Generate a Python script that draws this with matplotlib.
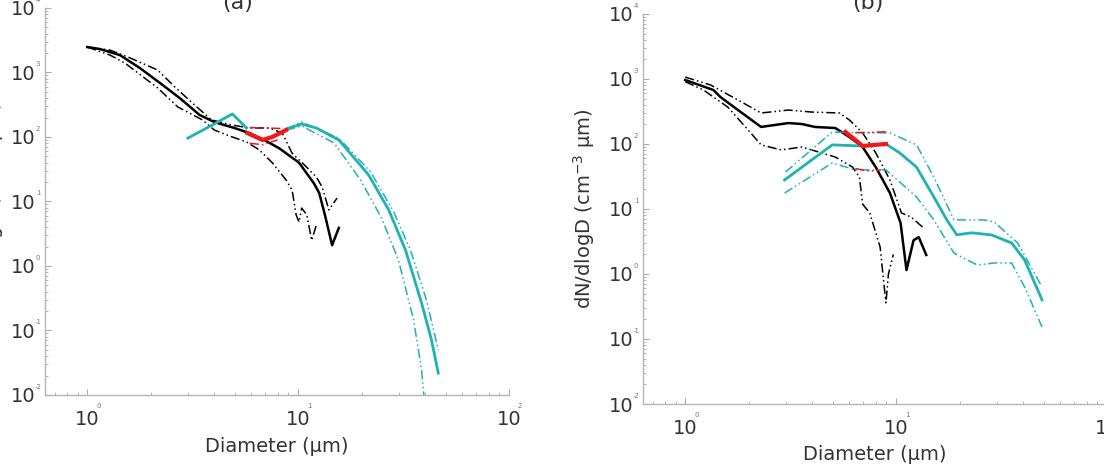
import matplotlib
matplotlib.use("Agg")
import matplotlib.pyplot as plt
import numpy as np

# ---- panel (a) ----
a_blk_D = [1.0, 1.15, 1.43, 1.78, 2.21, 2.75, 3.41, 4.01, 4.99, 5.87, 6.91, 8.13, 10.1, 11.9, 12.6, 13.4, 14.5, 15.6]
a_blk_N = [2480, 2310, 1860, 1170, 690, 400, 220, 170, 138, 115, 90, 67, 40, 19, 13.5, 6.2, 2.1, 3.9]
a_hi_D = [1.0, 1.28, 1.56, 2.16, 2.60, 3.23, 3.89, 4.88, 5.87, 7.3, 8.41, 9.37, 10.7, 12.2, 13.0, 14.0, 15.3]
a_hi_N = [2480, 2230, 1740, 1090, 600, 313, 184, 153, 138, 138, 115, 56, 37, 24, 16.8, 7.4, 11.3]
a_lo_D = [1.0, 1.28, 1.51, 2.16, 2.69, 3.52, 4.01, 4.88, 5.69, 6.55, 7.54, 8.78, 9.37, 9.79, 10.1, 10.4, 11.0, 11.6, 12.2]
a_lo_N = [2480, 1870, 1400, 575, 292, 184, 128, 100, 84, 63, 40, 21.5, 15, 6.2, 4.8, 7.9, 6.2, 2.5, 4.3]

a_cyL_D = [3.0, 3.93, 4.88, 5.69]
a_cyL_N = [96, 154, 228, 138]
a_cy_D = [8.78, 10.4, 12.2, 15.6, 21.6, 26.9, 32.3, 38.5, 42.9, 46.2]
a_cy_N = [133, 159, 138, 90, 25.8, 7.4, 1.77, 0.267, 0.0713, 0.0219]
a_cyHi_D = [8.78, 10.4, 15.6, 22.1, 28.4, 34.1, 40.6, 46.2]
a_cyHi_N = [133, 171, 96, 28.6, 6.9, 1.77, 0.297, 0.05]
a_cyLo_D = [8.78, 10.4, 14.8, 19.8, 24.9, 29.9, 35.3, 38.5, 39.7]
a_cyLo_N = [128, 148, 81, 21.5, 5.5, 1.24, 0.146, 0.0244, 0.008]

a_red_D = [5.75, 6.77, 7.54, 8.78]
a_red_N = [115, 90, 100, 128]
a_redHi_D = [5.9, 7.0, 8.5]
a_redHi_N = [140, 138, 135]
a_redLo_D = [5.9, 6.8, 8.0]
a_redLo_N = [80, 76, 90]

# ---- panel (b) ----
b_blk_D = [1.0, 1.36, 1.47, 1.78, 2.29, 3.09, 3.57, 4.12, 5.15, 6.01, 6.94, 8.01, 9.35, 10.5, 11.2, 12.1, 12.8, 13.9]
b_blk_N = [965, 678, 528, 333, 183, 210, 203, 183, 176, 128, 90, 44, 17.6, 6.1, 1.15, 3.3, 3.7, 1.96]
b_hi_D = [1.0, 1.32, 1.78, 2.29, 3.09, 3.99, 5.38, 6.01, 6.94, 8.01, 9.35, 10.6, 11.8, 13.5]
b_hi_N = [1070, 809, 475, 300, 333, 310, 300, 234, 148, 73, 28, 8.7, 7.5, 5.1]
b_lo_D = [1.0, 1.22, 1.59, 1.99, 2.29, 2.86, 3.57, 4.31, 5.15, 6.22, 6.70, 6.94, 7.5, 8.4, 8.8, 8.95, 9.2, 9.7]
b_lo_N = [910, 678, 371, 164, 97, 81, 90, 75, 63, 44, 31, 11.9, 8.7, 2.6, 0.6, 0.36, 1.0, 2.0]

b_cy_D = [2.96, 4.98, 6.94, 8.95, 10.4, 12.5, 15.1, 17.4, 19.4, 22.7, 28.3, 35.3, 40.7, 49.2]
b_cy_N = [28, 97, 93, 100, 73, 44, 15.3, 6.8, 4.0, 4.3, 4.0, 3.0, 1.64, 0.4]
b_cyHi_D = [2.99, 4.98, 6.0, 9.35, 12.5, 15.1, 18.8, 21.7, 26.1, 29.2, 37.7, 49.2]
b_cyHi_N = [37, 153, 150, 148, 97, 31, 6.8, 6.8, 6.8, 6.3, 3.0, 0.63]
b_cyLo_D = [2.96, 4.98, 6.42, 8.95, 12.5, 15.1, 18.8, 24.3, 29.2, 35.3, 40.7, 49.2]
b_cyLo_N = [17.6, 51, 40, 40, 15.3, 6.8, 2.1, 1.37, 1.48, 1.48, 0.63, 0.153]

b_red_D = [5.75, 6.42, 6.94, 7.95, 8.95]
b_red_N = [153, 115, 93, 97, 100]
b_redHi_D = [6.4, 7.5, 9.0]
b_redHi_N = [150, 150, 155]
b_redLo_D = [6.4, 7.5, 8.5]
b_redLo_N = [42, 38, 40]

xticks = [1, 10, 100]
yticks = [1e-2, 1e-1, 1e0, 1e1, 1e2, 1e3, 1e4]

BLK = "black"
CY = "#1fb2b2"
RD = "#f01818"
DD = (0, (6, 2, 1, 2, 1, 2))

fig = plt.figure(figsize=(11.04, 4.71), dpi=100)
axa = fig.add_axes([0.04076, 0.16136, 0.42029, 0.82166])
axb = fig.add_axes([0.58243, 0.14225, 0.42029, 0.82803])


def style(ax):
    ax.set_xscale("log")
    ax.set_yscale("log")
    ax.set_xlim(10 ** -0.2, 100)
    ax.set_ylim(1e-2, 1e4)
    for s in ["top", "right"]:
        ax.spines[s].set_visible(False)
    for s in ["left", "bottom"]:
        ax.spines[s].set_color("#b5b5b5")
        ax.spines[s].set_linewidth(1.0)
    ax.set_xticks(xticks)
    ax.set_xticklabels(["10"] * len(xticks))
    ax.set_yticks(yticks)
    ax.set_yticklabels(["10"] * len(yticks))
    ax.tick_params(which="both", direction="in", colors="#aaaaaa",
                   labelcolor="#333333", labelsize=14)
    ax.tick_params(which="major", length=4)
    ax.tick_params(axis="x", which="major", pad=11)
    ax.tick_params(axis="y", which="major", pad=7)
    ax.tick_params(which="minor", length=2)
    # small exponents
    for v in xticks:
        ax.annotate(str(int(round(np.log10(v)))), xy=(v, 0),
                    xycoords=("data", "axes fraction"), xytext=(8, -8),
                    textcoords="offset points", fontsize=5, color="#777777",
                    ha="center", va="center", annotation_clip=False)
    for v in yticks:
        ax.annotate(str(int(round(np.log10(v)))), xy=(0, v),
                    xycoords=("axes fraction", "data"), xytext=(-5, 6),
                    textcoords="offset points", fontsize=5, color="#777777",
                    ha="center", va="center", annotation_clip=False)
    ax.set_xlabel("Diameter (μm)", fontsize=14, color="#333333")
    ax.set_ylabel("dN/dlogD (cm$^{-3}$ μm)", fontsize=14, color="#333333")


style(axa)
style(axb)
axa.xaxis.set_label_coords(0.5, -0.108)
axb.xaxis.set_label_coords(0.5, -0.105)
axa.yaxis.set_label_coords(-0.085, 0.5)
axb.yaxis.set_label_coords(-0.100, 0.5)

# panel (a)
axa.plot(a_hi_D, a_hi_N, color=BLK, lw=1.1, ls=DD)
axa.plot(a_lo_D, a_lo_N, color=BLK, lw=1.1, ls=DD)
axa.plot(a_blk_D, a_blk_N, color=BLK, lw=1.8)
axa.plot(a_cyHi_D, a_cyHi_N, color=CY, lw=1.1, ls=DD)
axa.plot(a_cyLo_D, a_cyLo_N, color=CY, lw=1.1, ls=DD)
axa.plot(a_cyL_D, a_cyL_N, color=CY, lw=2.0)
axa.plot(a_cy_D, a_cy_N, color=CY, lw=2.0)
axa.plot(a_redHi_D, a_redHi_N, color=RD, lw=1.1, ls=DD)
axa.plot(a_redLo_D, a_redLo_N, color=RD, lw=1.1, ls=DD)
axa.plot(a_red_D, a_red_N, color=RD, lw=3.0)

# panel (b)
axb.plot(b_hi_D, b_hi_N, color=BLK, lw=1.1, ls=DD)
axb.plot(b_lo_D, b_lo_N, color=BLK, lw=1.1, ls=DD)
axb.plot(b_blk_D, b_blk_N, color=BLK, lw=1.8)
axb.plot(b_cyHi_D, b_cyHi_N, color=CY, lw=1.1, ls=DD)
axb.plot(b_cyLo_D, b_cyLo_N, color=CY, lw=1.1, ls=DD)
axb.plot(b_cy_D, b_cy_N, color=CY, lw=2.0)
axb.plot(b_redHi_D, b_redHi_N, color=RD, lw=1.1, ls=DD)
axb.plot(b_redLo_D, b_redLo_N, color=RD, lw=1.1, ls=DD)
axb.plot(b_red_D, b_red_N, color=RD, lw=3.0)

fig.text(238 / 1104, 1 - 9 / 471, "(a)", fontsize=16, color="#333333",
         ha="center", va="baseline")
fig.text(868 / 1104, 1 - 9 / 471, "(b)", fontsize=16, color="#333333",
         ha="center", va="baseline")

fig.savefig("out.png", dpi=100)
